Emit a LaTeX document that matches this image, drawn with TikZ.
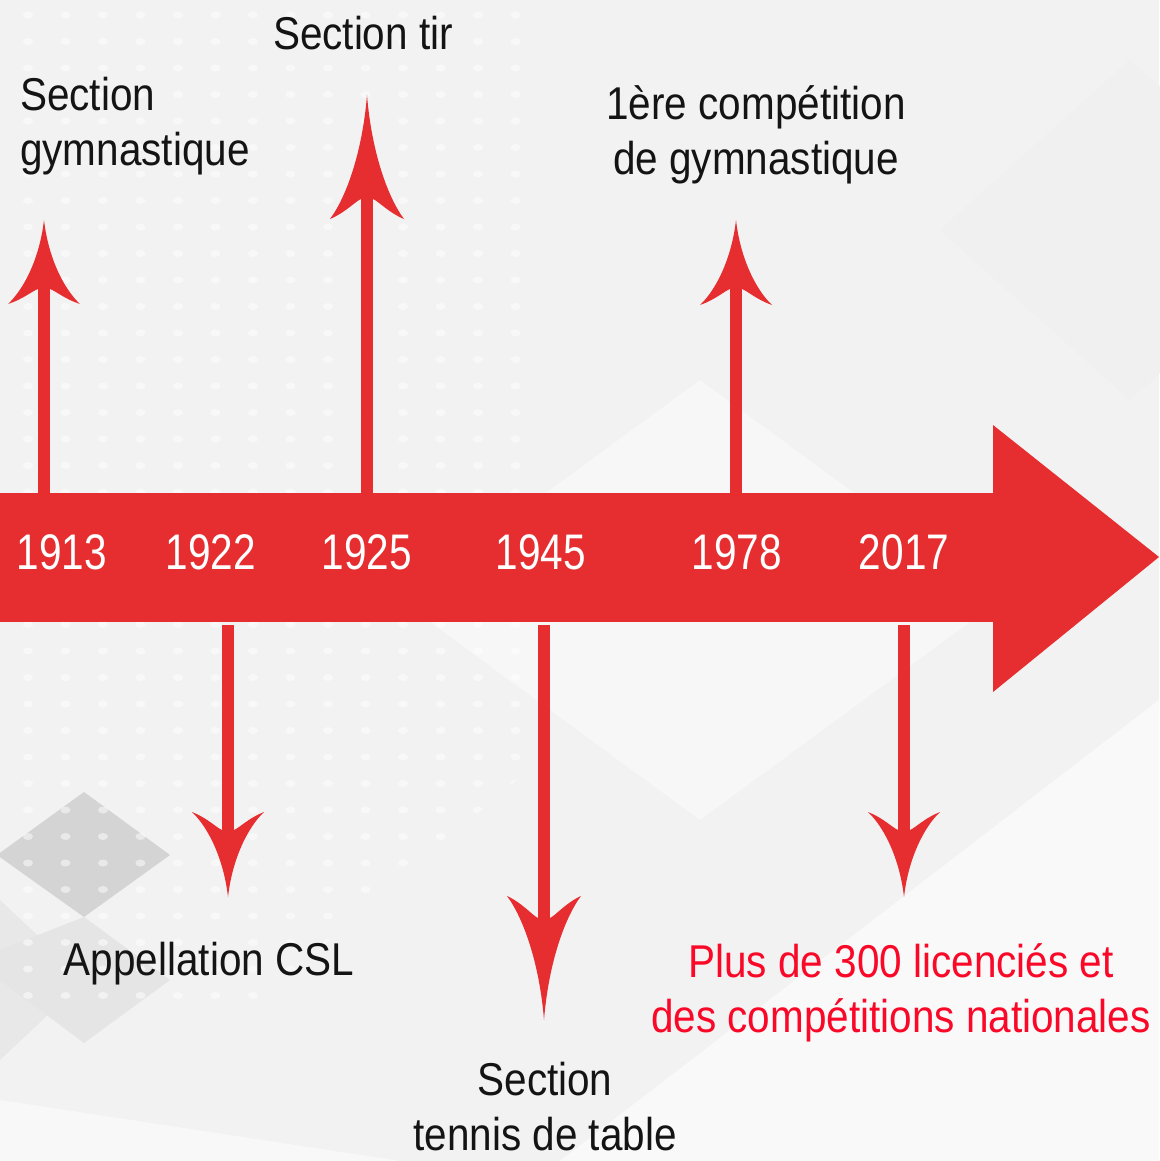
\documentclass[tikz,border=0pt]{standalone}
\usepackage{fontspec}
\setmainfont{Liberation Sans}[FakeStretch=0.88]
\newfontfamily\yearfont{Liberation Sans}[FakeStretch=0.81]
\definecolor{bandred}{RGB}{230,46,48}
\definecolor{txtred}{RGB}{250,8,40}
\definecolor{bggray}{RGB}{242,242,242}
\newcommand\TLarrow[7]{% name, x, start y, tip y, wing y, half width, notch y
  \coordinate (#1-s) at (#2,#3);
  \coordinate (#1-n) at (#2,#7);
  \coordinate (#1-t) at (#2,#4);
  \draw[shaft] (#1-s) -- (#1-n);
  \fill[bandred] (#1-t)
    .. controls ({#2-0.12*#6},{#4+0.45*(#5-#4)}) and ({#2-0.55*#6},{#5-0.18*(#5-#4)}) .. ({#2-#6},#5)
    .. controls ({#2-0.6*#6},{#5+0.3*(#7-#5)}) and ({#2-0.3*#6},{#7-0.1*(#7-#5)}) .. ({#2-6},#7)
    -- ({#2+6},#7)
    .. controls ({#2+0.3*#6},{#7-0.1*(#7-#5)}) and ({#2+0.6*#6},{#5+0.3*(#7-#5)}) .. ({#2+#6},#5)
    .. controls ({#2+0.55*#6},{#5-0.18*(#5-#4)}) and ({#2+0.12*#6},{#4+0.45*(#5-#4)}) .. (#1-t) -- cycle;
}
\begin{document}
\begin{tikzpicture}[x=1pt,y=-1pt,
  shaft/.style={draw=bandred,line width=12pt},
  year/.style={text=white,font=\yearfont\fontsize{50}{50}\selectfont,anchor=base,inner sep=0pt},
  label/.style={text=black!92,font=\fontsize{46}{55}\selectfont,anchor=base,inner sep=0pt,align=center},
  redlabel/.style={label,text=txtred}]
% background
\useasboundingbox (0,0) rectangle (1159,1161);
\fill[bggray] (0,0) rectangle (1159,1161);
\fill[white,opacity=0.6] (560,1161) -- (1159,700) -- (1159,1161) -- cycle;
\fill[white,opacity=0.5] (0,1161) -- (0,1100) -- (400,1161) -- cycle;
\fill[black!5] (280,80) -- (620,400) -- (300,700) -- (-40,400) -- cycle;
\fill[black!6] (1130,60) -- (1320,230) -- (1130,400) -- (940,230) -- cycle;
\fill[black!3] (700,380) -- (1000,600) -- (700,820) -- (400,600) -- cycle;
\fill[black!9] (0,900) -- (85,980) -- (0,1060) -- cycle;
\fill[black!17] (84,792) -- (170,855) -- (84,917) -- (-3,855) -- cycle;
\fill[black!10] (84,917) -- (170,980) -- (84,1043) -- (0,980) -- (0,950) -- cycle;
\begin{scope}
  \clip (0,0) -- (540,0) -- (540,760) -- (260,1000) -- (0,1000) -- cycle;
  \foreach \i in {0,...,14} {
    \foreach \j in {0,...,37} {
      \fill[white,opacity=0.5] ({28+37.5*\i},{15+26.5*\j}) ellipse (5 and 3.5);
    }
  }
\end{scope}
% band
\fill[bandred] (0,493) rectangle (996,622);
\fill[bandred] (993,425) -- (1159,557) -- (993,692) -- cycle;
% years
\node[year] (y1913) at (62,569) {1913};
\node[year] (y1922) at (211,569) {1922};
\node[year] (y1925) at (367,569) {1925};
\node[year] (y1945) at (541,569) {1945};
\node[year] (y1978) at (737,569) {1978};
\node[year] (y2017) at (904,569) {2017};
% arrows
\TLarrow{a1913}{44}{494}{220}{304}{36}{289}
\TLarrow{a1925}{367}{494}{95}{219}{37}{199}
\TLarrow{a1978}{736}{494}{220}{305}{36}{289}
\TLarrow{a1922}{228}{625}{897}{812}{36}{830}
\TLarrow{a1945}{544}{625}{1020}{896}{37}{918}
\TLarrow{a2017}{904}{625}{897}{812}{36}{830}
% labels (base anchor = baseline of last line)
\node[label,anchor=base west,align=left] (l1913) at (20,166) {Section\\gymnastique};
\node[label] (l1925) at (363,50) {Section tir};
\node[label] (l1978) at (756,175) {1ère compétition\\de gymnastique};
\node[label] (l1922) at (209,975) {Appellation CSL};
\node[label] (l1945) at (545,1150) {Section\\tennis de table};
\node[redlabel] (l2017) at (901,1032) {Plus de 300 licenciés et\\des compétitions nationales};
\end{tikzpicture}
\end{document}
